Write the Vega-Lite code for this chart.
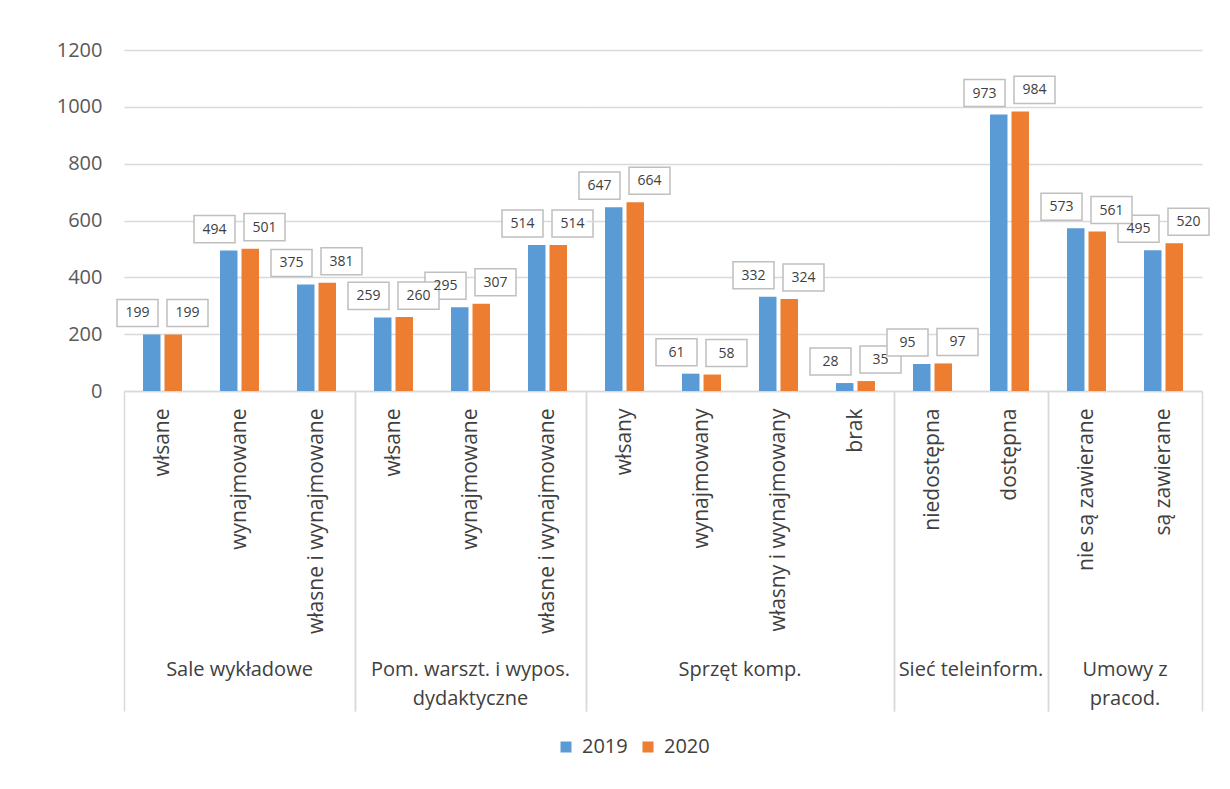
{
  "$schema": "https://vega.github.io/schema/vega-lite/v6.json",
  "background": "white",
  "padding": {"left": 56, "top": 40, "right": 20, "bottom": 10},
  "data": {
    "values": [
      {"group": "Sale wykładowe", "sub": "włsane", "year": "2019", "value": 199},
      {"group": "Sale wykładowe", "sub": "włsane", "year": "2020", "value": 199},
      {"group": "Sale wykładowe", "sub": "wynajmowane", "year": "2019", "value": 494},
      {"group": "Sale wykładowe", "sub": "wynajmowane", "year": "2020", "value": 501},
      {"group": "Sale wykładowe", "sub": "własne i wynajmowane", "year": "2019", "value": 375},
      {"group": "Sale wykładowe", "sub": "własne i wynajmowane", "year": "2020", "value": 381},
      {"group": "Pom. warszt. i wypos. dydaktyczne", "sub": "włsane", "year": "2019", "value": 259},
      {"group": "Pom. warszt. i wypos. dydaktyczne", "sub": "włsane", "year": "2020", "value": 260},
      {"group": "Pom. warszt. i wypos. dydaktyczne", "sub": "wynajmowane", "year": "2019", "value": 295},
      {"group": "Pom. warszt. i wypos. dydaktyczne", "sub": "wynajmowane", "year": "2020", "value": 307},
      {"group": "Pom. warszt. i wypos. dydaktyczne", "sub": "własne i wynajmowane", "year": "2019", "value": 514},
      {"group": "Pom. warszt. i wypos. dydaktyczne", "sub": "własne i wynajmowane", "year": "2020", "value": 514},
      {"group": "Sprzęt komp.", "sub": "włsany", "year": "2019", "value": 647},
      {"group": "Sprzęt komp.", "sub": "włsany", "year": "2020", "value": 664},
      {"group": "Sprzęt komp.", "sub": "wynajmowany", "year": "2019", "value": 61},
      {"group": "Sprzęt komp.", "sub": "wynajmowany", "year": "2020", "value": 58},
      {"group": "Sprzęt komp.", "sub": "własny i wynajmowany", "year": "2019", "value": 332},
      {"group": "Sprzęt komp.", "sub": "własny i wynajmowany", "year": "2020", "value": 324},
      {"group": "Sprzęt komp.", "sub": "brak", "year": "2019", "value": 28},
      {"group": "Sprzęt komp.", "sub": "brak", "year": "2020", "value": 35},
      {"group": "Sieć teleinform.", "sub": "niedostępna", "year": "2019", "value": 95},
      {"group": "Sieć teleinform.", "sub": "niedostępna", "year": "2020", "value": 97},
      {"group": "Sieć teleinform.", "sub": "dostępna", "year": "2019", "value": 973},
      {"group": "Sieć teleinform.", "sub": "dostępna", "year": "2020", "value": 984},
      {"group": "Umowy z pracod.", "sub": "nie są zawierane", "year": "2019", "value": 573},
      {"group": "Umowy z pracod.", "sub": "nie są zawierane", "year": "2020", "value": 561},
      {"group": "Umowy z pracod.", "sub": "są zawierane", "year": "2019", "value": 495},
      {"group": "Umowy z pracod.", "sub": "są zawierane", "year": "2020", "value": 520}
    ]
  },
  "facet": {
    "column": {
      "field": "group",
      "type": "nominal",
      "sort": ["Sale wykładowe", "Pom. warszt. i wypos. dydaktyczne", "Sprzęt komp.", "Sieć teleinform.", "Umowy z pracod."],
      "title": null,
      "header": {
        "labelOrient": "bottom",
        "labelFont": "Open Sans",
        "labelFontSize": 20,
        "labelColor": "#404040",
        "labelPadding": 269,
        "labelLineHeight": 29,
        "labelExpr": "datum.value == 'Pom. warszt. i wypos. dydaktyczne' ? ['Pom. warszt. i wypos.', 'dydaktyczne'] : datum.value == 'Umowy z pracod.' ? ['Umowy z', 'pracod.'] : datum.value"
      }
    }
  },
  "spacing": 0,
  "bounds": "flush",
  "resolve": {"scale": {"x": "independent"}},
  "spec": {
    "width": {"step": 77},
    "height": 341,
    "encoding": {
      "x": {
        "field": "sub",
        "type": "nominal",
        "sort": null,
        "scale": {"paddingInner": 0, "paddingOuter": 0},
        "axis": {
          "title": null,
          "labelAngle": -90,
          "labelFont": "Open Sans",
          "labelFontSize": 21,
          "labelColor": "#404040",
          "labelLimit": 0,
          "tickBand": "extent",
          "tickSize": 320,
          "tickColor": "#d9d9d9",
          "tickWidth": 1.5,
          "tickOpacity": {"condition": {"test": "datum.index == -1 || datum.index == 1", "value": 1}, "value": 0},
          "labelPadding": -303,
          "domainColor": "#d9d9d9",
          "domainWidth": 1.5
        }
      },
      "y": {
        "field": "value",
        "type": "quantitative",
        "scale": {"domain": [0, 1200], "nice": false},
        "axis": {
          "title": null,
          "values": [0, 200, 400, 600, 800, 1000, 1200],
          "format": "d",
          "ticks": false,
          "domain": false,
          "labelFont": "Open Sans",
          "labelFontSize": 20,
          "labelColor": "#595959",
          "labelPadding": 22,
          "gridColor": "#d9d9d9",
          "gridWidth": 1.5
        }
      },
      "color": {
        "field": "year",
        "type": "nominal",
        "scale": {"domain": ["2019", "2020"], "range": ["#5b9bd5", "#ed7d31"]},
        "legend": {
          "title": null,
          "orient": "none",
          "direction": "horizontal",
          "legendX": 432,
          "legendY": 687,
          "symbolType": "square",
          "symbolSize": 121,
          "symbolStrokeWidth": 0,
          "labelFont": "Open Sans",
          "labelFontSize": 20,
          "labelColor": "#404040",
          "columnPadding": 10,
          "labelOffset": 6
        }
      }
    },
    "layer": [
      {
        "transform": [{"filter": "datum.year == '2019'"}],
        "mark": {"type": "bar", "width": {"band": 0.227}, "xOffset": -10.75}
      },
      {
        "transform": [{"filter": "datum.year == '2020'"}],
        "mark": {"type": "bar", "width": {"band": 0.227}, "xOffset": 10.75}
      },
      {
        "transform": [{"filter": "datum.year == '2019'"}],
        "mark": {
          "type": "point",
          "shape": "M-1,-0.66L1,-0.66L1,0.66L-1,0.66Z",
          "size": 1681,
          "filled": false,
          "fill": "white",
          "fillOpacity": 1,
          "stroke": "#bfbfbf",
          "strokeWidth": 1.5,
          "opacity": 1,
          "xOffset": -25,
          "yOffset": -21.5
        },
        "encoding": {"color": {"value": "#bfbfbf"}}
      },
      {
        "transform": [{"filter": "datum.year == '2020'"}],
        "mark": {
          "type": "point",
          "shape": "M-1,-0.66L1,-0.66L1,0.66L-1,0.66Z",
          "size": 1681,
          "filled": false,
          "fill": "white",
          "fillOpacity": 1,
          "stroke": "#bfbfbf",
          "strokeWidth": 1.5,
          "opacity": 1,
          "xOffset": 25,
          "yOffset": -21.5
        },
        "encoding": {"color": {"value": "#bfbfbf"}}
      },
      {
        "transform": [{"filter": "datum.year == '2019'"}],
        "mark": {
          "type": "text",
          "font": "Open Sans",
          "fontSize": 14,
          "baseline": "middle",
          "align": "center",
          "xOffset": -25,
          "yOffset": -21
        },
        "encoding": {"text": {"field": "value", "type": "quantitative"}, "color": {"value": "#404040"}}
      },
      {
        "transform": [{"filter": "datum.year == '2020'"}],
        "mark": {
          "type": "text",
          "font": "Open Sans",
          "fontSize": 14,
          "baseline": "middle",
          "align": "center",
          "xOffset": 25,
          "yOffset": -21
        },
        "encoding": {"text": {"field": "value", "type": "quantitative"}, "color": {"value": "#404040"}}
      }
    ]
  },
  "config": {
    "view": {"stroke": null},
    "font": "Open Sans"
  }
}
